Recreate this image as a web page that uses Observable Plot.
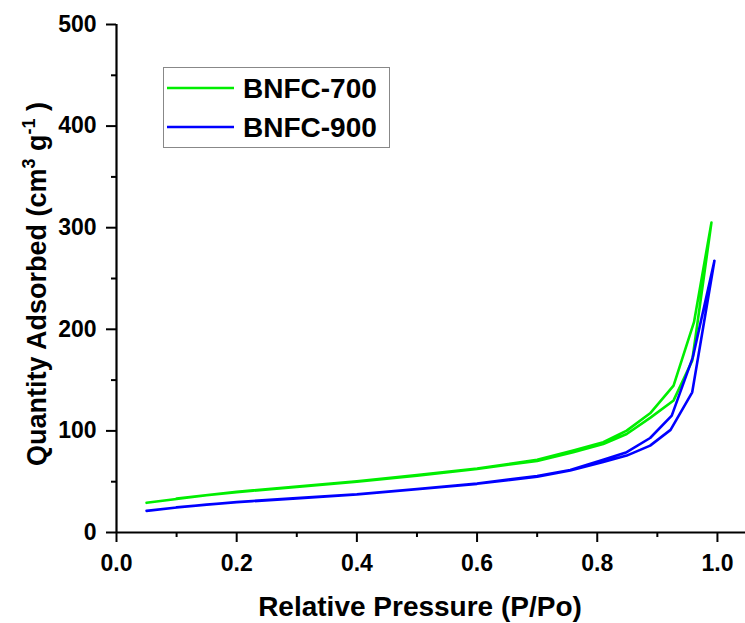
<!DOCTYPE html>
<html><head><meta charset="utf-8">
<script src="https://cdn.jsdelivr.net/npm/d3@7"></script>
<script src="https://cdn.jsdelivr.net/npm/@observablehq/plot@0.6"></script>
<style>
body{margin:0;background:#fff}
#chart{position:relative;width:745px;height:623px}
</style>
</head><body><div id="chart"></div>
<script>
// Data: adsorption branch followed by desorption branch
const samples = ["BNFC-700", "BNFC-900"];
const sampleColors = ["#00ee00", "#0000ff"];

const p700 = [0.05,0.1,0.15,0.2,0.3,0.4,0.5,0.6,0.7,0.76,0.81,0.849,0.888,0.927,0.958,0.99,
              0.961,0.927,0.888,0.849,0.81,0.76,0.7,0.6,0.5,0.4,0.3,0.2,0.1];
const q700 = [29.2,33,36.6,39.6,44.8,50,56,62.6,70.5,79,87,97,112.8,130,169,305,
              207,144.5,117.3,100.3,88.8,80.6,71.5,63,56.5,50.5,45.2,40,33.4];

const p900 = [0.05,0.1,0.15,0.2,0.3,0.4,0.5,0.6,0.7,0.755,0.81,0.849,0.888,0.922,0.958,0.995,
              0.959,0.924,0.888,0.849,0.81,0.755,0.7,0.6,0.5,0.4,0.3,0.2,0.1];
const q900 = [21.3,24.6,27.4,29.8,33.5,37.4,42.5,47.9,55,61,69.5,75.7,85.5,101,138,267.5,
              172.4,115,93,79,71.5,61.6,55.5,48.3,42.8,37.6,33.8,30,24.9];

const xMajor = [0, 0.2, 0.4, 0.6, 0.8, 1.0];
const xMinor = [0.1, 0.3, 0.5, 0.7, 0.9];
const yMajor = [0, 100, 200, 300, 400, 500];
const yMinor = [50, 150, 250, 350, 450];

const xTitle = "Relative Pressure (P/Po)";

const rows = [
  ...p700.map((p, i) => ({sample: samples[0], p, q: q700[i]})),
  ...p900.map((p, i) => ({sample: samples[1], p, q: q900[i]}))
];

const font = "'Liberation Sans', Arial, sans-serif";

const plot = Plot.plot({
  width: 745, height: 623,
  marginLeft: 116, marginRight: 0, marginTop: 24, marginBottom: 91,
  x: {domain: [0, 1.0467], label: null},
  y: {domain: [0, 500], label: null},
  color: {domain: samples, range: sampleColors},
  style: {fontFamily: font, fontWeight: "bold", color: "#000", background: "#fff", overflow: "visible"},
  marks: [
    Plot.line(rows, {x: "p", y: "q", z: "sample", stroke: "sample", strokeWidth: 2.6, strokeLinejoin: "round"}),
    Plot.axisX({ticks: xMinor, tickSize: 5, tickFormat: () => "", strokeWidth: 2}),
    Plot.axisX({ticks: xMajor, tickSize: 10, tickPadding: 12, tickFormat: d3.format(".1f"), fontSize: 23, fontWeight: "bold", strokeWidth: 2}),
    Plot.axisY({ticks: yMinor, tickSize: 5, tickFormat: () => "", strokeWidth: 2}),
    Plot.axisY({ticks: yMajor, tickSize: 10, tickPadding: 10, tickFormat: d3.format("d"), fontSize: 23, fontWeight: "bold", strokeWidth: 2}),
    Plot.ruleY([0], {strokeWidth: 2.2}),
    Plot.ruleX([0], {strokeWidth: 2.2})
  ]
});

const svg = d3.select(plot);

// X axis title
svg.append("text")
  .attr("x", 420).attr("y", 616)
  .attr("text-anchor", "middle")
  .attr("font-family", font).attr("font-weight", "bold").attr("font-size", 28)
  .attr("fill", "#000")
  .text(xTitle);

// Y axis title with superscripts
const yt = svg.append("text")
  .attr("transform", "translate(46,284) rotate(-90)")
  .attr("text-anchor", "middle")
  .attr("font-family", font).attr("font-weight", "bold").attr("font-size", 27)
  .attr("fill", "#000");
yt.append("tspan").text("Quantity Adsorbed (cm");
yt.append("tspan").attr("dy", -11).attr("font-size", 18).text("3");
yt.append("tspan").attr("dy", 11).text(" g");
yt.append("tspan").attr("dy", -11).attr("font-size", 18).text("-1");
yt.append("tspan").attr("dy", 11).text(" )");

// Legend
const lg = svg.append("g");
lg.append("rect").attr("x", 163.5).attr("y", 67.5).attr("width", 226).attr("height", 80)
  .attr("fill", "#fff").attr("stroke", "#888").attr("stroke-width", 1);
samples.forEach((s, i) => {
  const yy = 88 + i * 39;
  lg.append("line").attr("x1", 167).attr("x2", 234).attr("y1", yy).attr("y2", yy)
    .attr("stroke", sampleColors[i]).attr("stroke-width", 2.6);
  lg.append("text").attr("x", 243).attr("y", yy + 10)
    .attr("text-anchor", "start")
    .attr("font-family", font).attr("font-weight", "bold").attr("font-size", 28)
    .attr("fill", "#000").text(s);
});

document.getElementById("chart").appendChild(plot);
</script>
</body></html>
